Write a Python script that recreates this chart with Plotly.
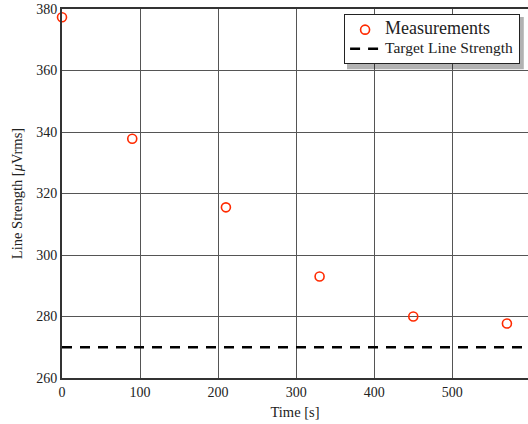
import plotly.graph_objects as go

time_s = [0, 90, 210, 330, 450, 570]
strength = [377.3, 337.8, 315.5, 293.0, 280.0, 277.7]
target = 270.0
x_range = [0, 597]
y_range = [260, 380]
x_ticks = [0, 100, 200, 300, 400, 500]
y_ticks = [260, 280, 300, 320, 340, 360, 380]

FONT = "Liberation Serif, DejaVu Serif, serif"

fig = go.Figure()
fig.add_trace(go.Scatter(
    x=time_s, y=strength, mode="markers",
    name="<span style='font-size:18px'>Measurements</span>",
    marker=dict(symbol="circle-open", size=9, color="#ff2a00", line=dict(width=1.6, color="#ff2a00")),
    cliponaxis=False,
))
fig.add_trace(go.Scatter(
    x=x_range, y=[target, target], mode="lines",
    name="<span style='font-size:15.5px'>Target Line Strength</span>",
    line=dict(color="black", width=2.5, dash="10px,8px"),
))

fig.update_layout(
    width=528, height=424,
    margin=dict(l=62, r=0, t=9, b=46),
    paper_bgcolor="white", plot_bgcolor="white",
    font=dict(family=FONT, size=14, color="#222"),
    showlegend=True,
    legend=dict(
        x=0.983, y=0.986, xanchor="right", yanchor="top",
        bgcolor="white", bordercolor="#222", borderwidth=1,
        font=dict(family=FONT, size=12, color="#222"),
        tracegroupgap=0, itemwidth=30,
    ),
    xaxis=dict(
        range=x_range, tickvals=x_ticks, showgrid=True, gridcolor="#555", gridwidth=1,
        zeroline=False, showline=True, linecolor="#333", linewidth=2, mirror=True,
        ticks="", tickfont=dict(family=FONT, size=14, color="#222"),
        title=dict(text="Time [s]", font=dict(family=FONT, size=14.5, color="#222"), standoff=8),
    ),
    yaxis=dict(
        range=y_range, tickvals=y_ticks, showgrid=True, gridcolor="#555", gridwidth=1,
        zeroline=False, showline=True, linecolor="#333", linewidth=2,
        ticks="", tickfont=dict(family=FONT, size=14, color="#222"),
        title=dict(text="Line Strength [<i>μ</i>Vrms]", font=dict(family=FONT, size=14.5, color="#222"), standoff=10),
    ),
)
fig.add_shape(type="rect", xref="paper", yref="paper", x0=0.6116, x1=0.991, y0=0.837, y1=0.978,
              fillcolor="rgba(0,0,0,0.3)", line=dict(width=0), layer="above")
fig.write_html("out.html")
